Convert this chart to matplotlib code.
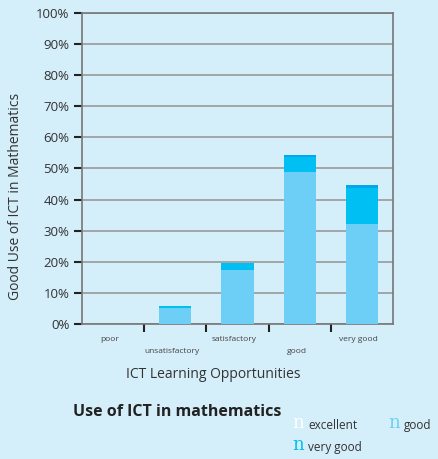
import numpy as np
import matplotlib.pyplot as plt

categories = ['poor', 'unsatisfactory', 'satisfactory', 'good', 'very good']
good = [0.0, 5.0, 17.3, 48.9, 32.1]        # light blue part
very_good = [0.0, 0.7, 2.3, 4.7, 11.6]     # deeper blue part
excellent = [0.0, 0.0, 0.0, 0.9, 1.0]      # thin top strip
yticks = [0, 10, 20, 30, 40, 50, 60, 70, 80, 90, 100]

bg = '#D4EEFA'
c_good = '#6DCFF6'
c_vgood = '#00BFF3'
c_exc = '#00A8EC'

plt.rcParams['font.family'] = ['Open Sans', 'DejaVu Sans']

fig = plt.figure(figsize=(4.38, 4.59), dpi=100, facecolor=bg)
ax = fig.add_axes([0.1872, 0.2941, 0.7101, 0.6776], facecolor=bg)

x = np.arange(len(categories))
good = np.array(good)
very_good = np.array(very_good)
excellent = np.array(excellent)
ax.bar(x, good, width=0.52, color=c_good, zorder=3)
ax.bar(x, very_good, width=0.52, bottom=good, color=c_vgood, zorder=3)
ax.bar(x, excellent, width=0.52, bottom=good + very_good, color=c_exc, zorder=3)

ax.set_xlim(-0.5, len(categories) - 0.5)
ax.set_ylim(0, 100)
ax.set_yticks(yticks)
ax.set_yticklabels([f'{v}%' for v in yticks], fontsize=9.5, color='#333333')
ax.yaxis.grid(True, color='#999999', linewidth=1.2, zorder=0)
ax.tick_params(axis='y', length=6, width=1.5, color='#222222', pad=3)

# ticks between the categories, labels staggered
ax.set_xticks(np.arange(0.5, len(categories) - 1, 1.0))
ax.set_xticklabels([])
ax.tick_params(axis='x', length=6, width=1.5, color='#222222', direction='out')
for i, name in enumerate(categories):
    yoff = -0.05 if i % 2 == 0 else -0.09
    ax.text(i - 0.05, yoff, name, transform=ax.get_xaxis_transform(),
            ha='center', va='center', fontsize=6, color='#444444')

for side in ['left', 'right', 'top', 'bottom']:
    ax.spines[side].set_color('#777777')
    ax.spines[side].set_linewidth(1.2)

fig.text(0.035, 0.572, 'Good Use of ICT in Mathematics', rotation=90,
         ha='center', va='center', fontsize=10, color='#333333')
fig.text(0.487, 0.185, 'ICT Learning Opportunities', ha='center', va='center',
         fontsize=10, color='#333333')
fig.text(0.167, 0.102, 'Use of ICT in mathematics', ha='left', va='center',
         fontsize=11.5, fontweight='bold', color='#222222')

legend_items = [('excellent', 'white', 0.667, 0.074),
                ('good', c_good, 0.886, 0.074),
                ('very good', c_vgood, 0.667, 0.026)]
for label, col, lx, ly in legend_items:
    fig.text(lx, ly + 0.004, 'n', ha='left', va='center', fontsize=13,
             family='DejaVu Serif', color=col)
    fig.text(lx + 0.037, ly, label, ha='left', va='center', fontsize=8.5, color='#333333')

fig.savefig('out.png', dpi=100, facecolor=bg)
